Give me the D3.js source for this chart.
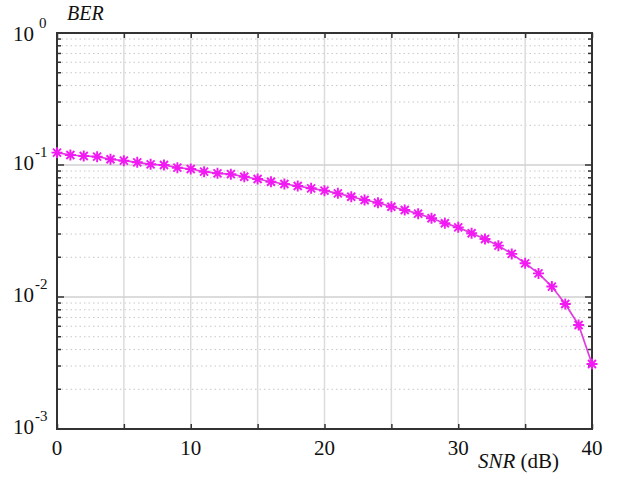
<!DOCTYPE html>
<html><head><meta charset="utf-8">
<script src="https://cdn.jsdelivr.net/npm/d3@7"></script>
</head><body style="margin:0;background:#fff">
<svg id="c" width="617" height="479" style="font-family:'Liberation Serif','Times New Roman',serif"></svg>
<script>
const snr = d3.range(0, 41, 1);
const ber = [0.124,0.119,0.117,0.1156,0.1105,0.1078,0.1048,0.1012,0.100,0.0954,
  0.0933,0.0890,0.0865,0.0852,0.0815,0.0783,0.0747,0.0718,0.0693,0.0666,
  0.0639,0.0610,0.0575,0.0543,0.0518,0.0483,0.0456,0.0428,0.0395,0.0362,
  0.0337,0.0304,0.0275,0.0245,0.0212,0.0180,0.0151,0.0120,0.00885,0.00614,0.00311];
const xTickLabels = [0,10,20,30,40];
const xGrid = [0,5,10,15,20,25,30,35,40];
const yDecades = [0,-1,-2,-3];

const svg = d3.select("#c");
const L=57, R=592, T=33, B=429;
const x = d3.scaleLinear().domain([0,40]).range([L,R]);
const y = d3.scaleLog().domain([1e-3,1]).range([B,T]);

// minor grid
const minors = [];
for (let e=-3;e<0;e++) for (let k=2;k<=9;k++) minors.push(k*Math.pow(10,e));
svg.append("g").selectAll("line").data(minors).join("line")
  .attr("x1",L).attr("x2",R).attr("y1",d=>y(d)).attr("y2",d=>y(d))
  .attr("stroke","#c8c8c8").attr("stroke-width",1).attr("stroke-dasharray","1.5,3");
// vertical grid
svg.append("g").selectAll("line").data(xGrid).join("line")
  .attr("x1",d=>x(d)).attr("x2",d=>x(d)).attr("y1",T).attr("y2",B)
  .attr("stroke","#dcdcdc").attr("stroke-width",1.5);
// major horizontal grid
svg.append("g").selectAll("line").data(yDecades).join("line")
  .attr("x1",L).attr("x2",R).attr("y1",d=>y(Math.pow(10,d))).attr("y2",d=>y(Math.pow(10,d)))
  .attr("stroke","#d0d0d0").attr("stroke-width",1.5);

function yTicks(g, xpos, dir){
  g.selectAll("line.mi").data(minors).join("line").attr("class","mi")
    .attr("x1",xpos).attr("x2",xpos+dir*4).attr("y1",d=>y(d)).attr("y2",d=>y(d))
    .attr("stroke","#333").attr("stroke-width",1.5);
  g.selectAll("line.ma").data(yDecades).join("line").attr("class","ma")
    .attr("x1",xpos).attr("x2",xpos+dir*7).attr("y1",d=>y(Math.pow(10,d))).attr("y2",d=>y(Math.pow(10,d)))
    .attr("stroke","#333").attr("stroke-width",1.5);
}
yTicks(svg.append("g"), L, 1);
yTicks(svg.append("g"), R, -1);
const xb = svg.append("g").attr("transform",`translate(0,${B})`)
  .call(d3.axisTop(x).tickValues(xGrid).tickSize(5).tickFormat(""));
const xt = svg.append("g").attr("transform",`translate(0,${T})`)
  .call(d3.axisBottom(x).tickValues(xGrid).tickSize(5).tickFormat(""));
[xb,xt].forEach(g=>{g.select(".domain").remove(); g.attr("font-family",null); g.selectAll("line").attr("stroke","#333").attr("stroke-width",1.5);});

// frame
svg.append("rect").attr("x",L).attr("y",T).attr("width",R-L).attr("height",B-T)
  .attr("fill","none").attr("stroke","#333").attr("stroke-width",2);

// line
const line = d3.line().x((d,i)=>x(snr[i])).y(d=>y(d));
svg.append("path").datum(ber).attr("d",line).attr("fill","none")
  .attr("stroke","#e03ce0").attr("stroke-width",1.7);
// asterisk markers
const star = "M-5.5,0L5.5,0M0,-5.5L0,5.5M-4,-4L4,4M-4,4L4,-4";
svg.append("g").selectAll("path").data(ber).join("path")
  .attr("transform",(d,i)=>`translate(${x(snr[i])},${y(d)})`)
  .attr("d",star).attr("stroke","#f21af2").attr("stroke-width",1.9).attr("fill","none");

// x tick labels
svg.append("g").selectAll("text").data(xTickLabels).join("text")
  .attr("x",d=>x(d)).attr("y",455).attr("text-anchor","middle")
  .style("font-size","21px").attr("fill","#111").text(d=>d);
// y tick labels
svg.append("g").selectAll("text").data(yDecades).join("text")
  .attr("x",34).attr("y",d=>y(Math.pow(10,d))+(d===0?8:5)).attr("text-anchor","end")
  .style("font-size","21px").attr("fill","#111").text("10");
svg.append("g").selectAll("text").data(yDecades).join("text")
  .attr("x",d=>d===0?39:35).attr("y",d=>y(Math.pow(10,d))+(d===0?8:5)-13)
  .style("font-size","15px").attr("fill","#111").text(d=>d);

// axis titles
svg.append("text").attr("x",67).attr("y",20)
  .style("font-size","20px").style("font-style","italic").attr("fill","#111").text("BER");
const st = svg.append("text").attr("x",478).attr("y",468)
  .style("font-size","21px").attr("fill","#111");
st.append("tspan").style("font-style","italic").text("SNR");
st.append("tspan").text(" (dB)");
</script>
</body></html>
